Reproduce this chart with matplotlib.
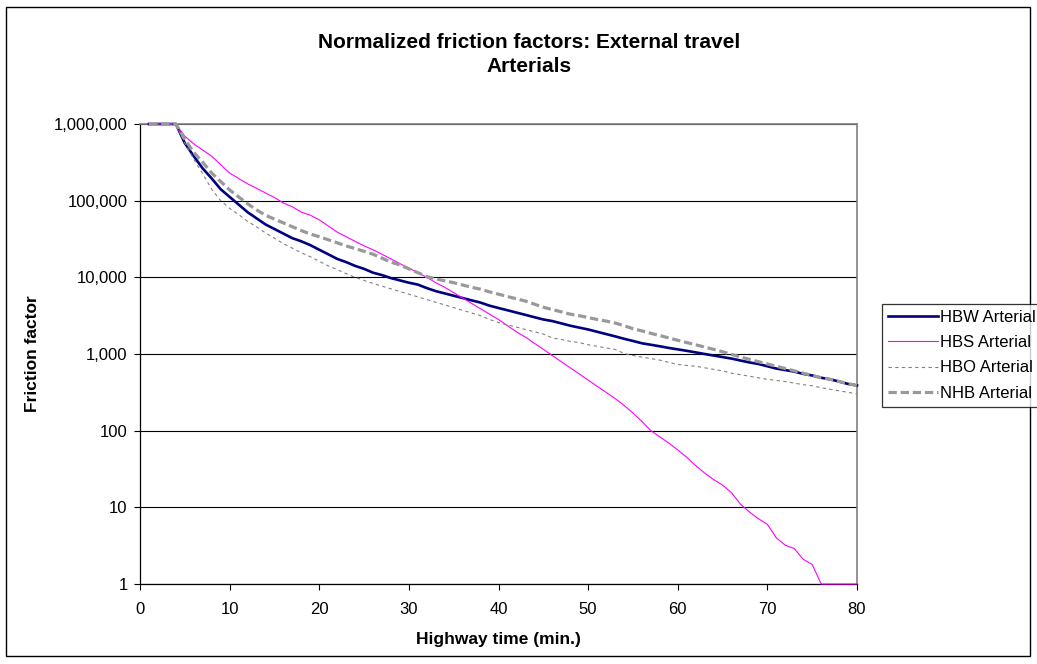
import matplotlib
matplotlib.use("Agg")
import matplotlib.pyplot as plt
from matplotlib.ticker import FixedLocator, FuncFormatter, NullLocator
from matplotlib.patches import Rectangle

plt.rcParams["font.family"] = ["Liberation Sans", "DejaVu Sans"]

# Highway time (min.)
minutes = list(range(1, 81))

hbw = [1000000, 1000000, 1000000, 1000000, 562000, 380000, 263000, 195000, 141000, 112000,
       89100, 70800, 58900, 49000, 42700, 37200, 32400, 29500, 26300, 22900,
       20000, 17400, 15800, 14100, 12900, 11500, 10700, 9770, 9120, 8510,
       8040, 7240, 6610, 6170, 5750, 5370, 5010, 4680, 4270, 3980,
       3720, 3470, 3240, 3020, 2820, 2690, 2510, 2340, 2210, 2090,
       1950, 1820, 1700, 1580, 1480, 1380, 1320, 1260, 1200, 1150,
       1100, 1050, 1000, 955, 912, 871, 822, 776, 741, 692,
       646, 617, 589, 550, 525, 490, 468, 437, 407, 389]

hbs = [1000000, 1000000, 1000000, 1000000, 692000, 550000, 457000, 380000, 295000, 229000,
       195000, 166000, 145000, 126000, 110000, 93300, 83200, 70800, 64600, 56200,
       46800, 38900, 33900, 29500, 25700, 22900, 20000, 17400, 15100, 13200,
       11500, 10000, 8510, 7410, 6310, 5370, 4570, 3890, 3310, 2820,
       2340, 1950, 1660, 1380, 1150, 955, 794, 661, 550, 457,
       380, 316, 263, 214, 170, 132, 100, 83, 69, 56,
       45, 35, 28, 23, 19.5, 15.5, 11, 8.7, 7.1, 6,
       4, 3.2, 2.9, 2.1, 1.8, 1, 1, 1, 1, 1]

hbo = [1000000, 1000000, 1000000, 1000000, 562000, 347000, 224000, 141000, 100000, 79400,
       66100, 53700, 45700, 38000, 32400, 27500, 24000, 20900, 18600, 16200,
       14100, 12600, 11200, 10000, 9120, 8320, 7670, 7080, 6530, 6030,
       5560, 5130, 4730, 4370, 4030, 3720, 3430, 3160, 2820, 2570,
       2400, 2240, 2090, 1950, 1820, 1620, 1550, 1460, 1410, 1320,
       1260, 1200, 1150, 1020, 955, 912, 871, 832, 776, 733,
       708, 692, 661, 631, 603, 562, 537, 513, 490, 468,
       452, 437, 417, 398, 385, 363, 347, 331, 316, 302]

nhb = [1000000, 1000000, 1000000, 1000000, 631000, 427000, 316000, 229000, 178000, 138000,
       112000, 91200, 75900, 64600, 57500, 51300, 45700, 40700, 36700, 33900,
       30900, 28200, 25700, 23700, 21900, 20000, 17800, 15800, 14500, 12900,
       11500, 10200, 9550, 9020, 8510, 7940, 7410, 7000, 6460, 6030,
       5620, 5250, 4900, 4470, 4070, 3800, 3550, 3310, 3160, 2990,
       2820, 2690, 2540, 2340, 2140, 2000, 1860, 1740, 1620, 1510,
       1410, 1320, 1230, 1150, 1070, 989, 912, 851, 794, 741,
       692, 646, 603, 562, 525, 490, 468, 437, 412, 385]

y_ticks = [1, 10, 100, 1000, 10000, 100000, 1000000]
x_ticks = [0, 10, 20, 30, 40, 50, 60, 70, 80]

fig = plt.figure(figsize=(10.37, 6.64), dpi=100)
ax = fig.add_axes([140 / 1037, 1 - 584 / 664, 717 / 1037, 460 / 664])

ax.plot(minutes, hbw, color="#000080", lw=1.9, label="HBW Arterial", clip_on=False, zorder=3)
ax.plot(minutes, hbs, color="#FF00FF", lw=0.8, label="HBS Arterial", clip_on=False, zorder=3)
ax.plot(minutes, hbo, color="#808080", lw=0.8, ls=(0, (3, 3)), label="HBO Arterial", clip_on=False, zorder=3)
ax.plot(minutes, nhb, color="#999999", lw=2.3, ls=(0, (2.6, 1.2)), label="NHB Arterial", clip_on=False, zorder=3)

ax.set_yscale("log")
ax.set_xlim(0, 80)
ax.set_ylim(1, 1000000)
ax.yaxis.set_major_locator(FixedLocator(y_ticks))
ax.yaxis.set_minor_locator(NullLocator())
ax.yaxis.set_major_formatter(FuncFormatter(lambda v, p: f"{int(round(v)):,}"))
ax.set_xticks(x_ticks)
ax.tick_params(labelsize=12, direction="out", length=4, width=0.8, colors="black", pad=5)
ax.tick_params(axis="x", pad=9)

ax.grid(True, axis="y", color="black", lw=0.8)
ax.grid(False, axis="x")
ax.set_axisbelow(True)
for s in ["top", "right"]:
    ax.spines[s].set_color("#808080")
    ax.spines[s].set_linewidth(1.2)
for s in ["left", "bottom"]:
    ax.spines[s].set_color("black")
    ax.spines[s].set_linewidth(0.9)

ax.set_xlabel("Highway time (min.)", fontsize=12.5, fontweight="bold", labelpad=11)
ax.set_ylabel("Friction factor", fontsize=12.5, fontweight="bold", labelpad=10)

fig.text(529 / 1037, 1 - 43 / 664, "Normalized friction factors: External travel",
         ha="center", va="center", fontsize=15, fontweight="bold")
fig.text(529 / 1037, 1 - 67 / 664, "Arterials",
         ha="center", va="center", fontsize=15, fontweight="bold")

# outer chart border
fig.patches.append(Rectangle((6 / 1037, 1 - 656 / 664), 1024 / 1037, 649 / 664,
                             transform=fig.transFigure, fill=False, edgecolor="black", lw=1.0))

leg = fig.legend(loc="upper left", bbox_to_anchor=(882 / 1037, 1 - 304 / 664),
                 fontsize=12, frameon=True, fancybox=False, edgecolor="black",
                 handlelength=3.0, handletextpad=0.1, borderpad=0.35, labelspacing=0.62,
                 borderaxespad=0)
leg.get_frame().set_linewidth(0.9)

fig.savefig("out.png", dpi=100)
